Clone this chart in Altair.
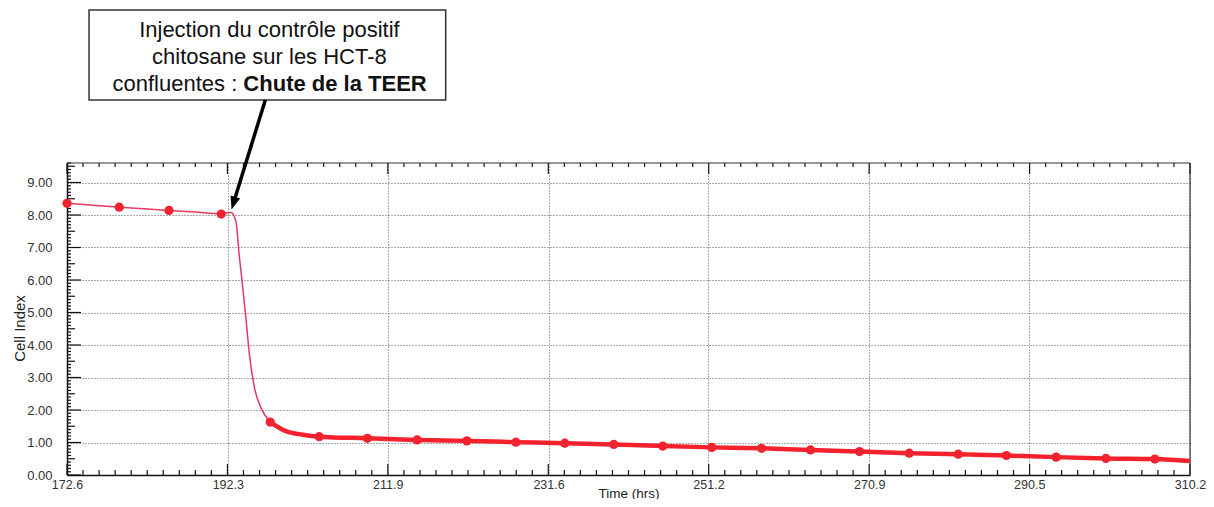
import altair as alt
import pandas as pd

# ---------------- data ----------------
# markers (hrs, Cell Index)
marker_time = [172.6, 179.0, 185.1, 191.5, 197.5, 203.5, 209.4, 215.5, 221.6, 227.6,
               233.6, 239.6, 245.6, 251.6, 257.7, 263.7, 269.7, 275.8, 281.8, 287.7,
               293.8, 299.9, 305.9]
marker_ci = [8.36, 8.24, 8.14, 8.03, 1.63, 1.18, 1.13, 1.08, 1.05, 1.01,
             0.98, 0.94, 0.89, 0.85, 0.82, 0.77, 0.72, 0.67, 0.64, 0.60,
             0.55, 0.51, 0.49]

# thin trace: before injection and the drop
thin_time = [172.6, 175.8, 179.0, 182.0, 185.1, 188.3, 191.5, 192.7, 193.3, 193.7,
             194.15, 194.56, 194.96, 195.58, 196.4, 197.5]
thin_ci = [8.36, 8.30, 8.24, 8.19, 8.14, 8.09, 8.04, 8.08, 7.80, 6.77,
           5.74, 4.72, 3.69, 2.67, 2.05, 1.63]

# thick trace: after the drop
thick_time = [197.5, 199.5, 201.5, 203.5, 209.4, 215.5, 221.6, 227.6, 233.6, 239.6,
              245.6, 251.6, 257.7, 263.7, 269.7, 275.8, 281.8, 287.7, 293.8, 299.9,
              305.9, 310.2]
thick_ci = [1.63, 1.34, 1.24, 1.18, 1.13, 1.08, 1.05, 1.01, 0.98, 0.94,
            0.89, 0.85, 0.82, 0.77, 0.72, 0.67, 0.64, 0.60, 0.55, 0.51,
            0.49, 0.43]

x_tick_labels = [172.6, 192.3, 211.9, 231.6, 251.2, 270.9, 290.5, 310.2]
y_tick_labels = [0, 1, 2, 3, 4, 5, 6, 7, 8, 9]

note_lines = ["Injection du contrôle positif", "chitosane sur les HCT-8"]
note_last_regular = "confluentes :"
note_last_bold = "Chute de la TEER"

# annotation placement (data units)
note_box = {"t": 175.3, "t2": 219.0, "v": 11.54, "v2": 14.31}
note_center_t = 197.4
note_line_v = [13.69, 12.86, 12.04]
note_split_t = [193.46, 194.21]
arrow_from = (196.9, 11.54)
arrow_shaft_end = (193.0, 8.37)
arrow_tip = (192.76, 8.17)

# ---------------- layout ----------------
W, H = 1123, 312
X_DOMAIN = [172.6, 310.2]
Y_DOMAIN = [0, 9.6]
FONT = "Liberation Sans"

n_minor_x = 70
x_step = (X_DOMAIN[1] - X_DOMAIN[0]) / n_minor_x
x_all = [round(X_DOMAIN[0] + i * x_step, 4) for i in range(n_minor_x + 1)]
x_major = [v for i, v in enumerate(x_all) if i % 10 == 0]
x_minor = [v for i, v in enumerate(x_all) if i % 10 != 0]
y_minor = [round(i * 0.1, 2) for i in range(97) if i % 5 != 0]
y_half = [round(i * 0.5, 2) for i in range(20) if i % 2 == 1]
y_major = [float(v) for v in y_tick_labels]

xs = alt.Scale(domain=X_DOMAIN, nice=False, zero=False)
ys = alt.Scale(domain=Y_DOMAIN, nice=False, zero=False)

grid_style = dict(grid=True, gridDash=[1, 2], gridColor="#555", gridWidth=1)
TICK = "#111"

# main axes (labels, grid, left/bottom frame) -- identical on every layer so they merge cleanly
x_main = alt.Axis(values=x_tick_labels, format=".1f", labelOverlap=False, labelFlush=False,
                  ticks=False, domain=True, domainColor="#111", domainWidth=1.5,
                  labelPadding=3, labelFont=FONT, labelFontSize=12.5, labelColor="#333",
                  title="Time (hrs)", titleFont=FONT, titleFontSize=13.5,
                  titleFontWeight="normal", titleColor="#222", titleY=22,
                  titleBaseline="alphabetic", **grid_style)
y_main = alt.Axis(values=y_tick_labels, format=".2f", labelOverlap=False,
                  ticks=False, domain=True, domainColor="#111", domainWidth=1.5,
                  labelPadding=15, labelFont=FONT, labelFontSize=13, labelColor="#333",
                  title="Cell Index", titleFont=FONT, titleFontSize=15,
                  titleFontWeight="normal", titleColor="#222", titleX=-48, titleY=165,
                  titleAngle=-90, titleAlign="center", titleBaseline="middle",
                  **grid_style)


def X(field="t:Q"):
    return alt.X(field, scale=xs, axis=x_main, title="Time (hrs)")


def Y(field="v:Q"):
    return alt.Y(field, scale=ys, axis=y_main, title="Cell Index")


markers = pd.DataFrame({"t": marker_time, "v": marker_ci})
thin = pd.DataFrame({"t": thin_time, "v": thin_ci})
thick = pd.DataFrame({"t": thick_time, "v": thick_ci})

thin_line = alt.Chart(thin).mark_line(color="#e23a62", strokeWidth=1.5, interpolate="monotone").encode(
    x=X(), y=Y())
thick_line = alt.Chart(thick).mark_line(color="#f5222e", strokeWidth=4.5, interpolate="monotone").encode(
    x=X(), y=Y())
points = alt.Chart(markers).mark_circle(size=85, color="#f2222e", opacity=1).encode(x=X(), y=Y())


# inward ticks, drawn from the tick value lists through the scales
def xticks(values, y0, y1):
    return alt.Chart(pd.DataFrame({"t": values})).mark_rule(color=TICK, strokeWidth=1.2).encode(
        x=X(), y=alt.value(y0), y2=alt.value(y1))


def yticks(values, length):
    return alt.Chart(pd.DataFrame({"v": values})).mark_rule(color=TICK, strokeWidth=1.2).encode(
        y=Y(), x=alt.value(0), x2=alt.value(length))


tick_layers = [
    xticks(x_minor, H, H - 5), xticks(x_major, H, H - 11),
    xticks(x_minor, 0, 4), xticks(x_major, 0, 11),
    yticks(y_minor, 4), yticks(y_half, 8), yticks(y_major, 14),
]
frame_top = alt.Chart(pd.DataFrame({"t": X_DOMAIN})).mark_line(color="#333", strokeWidth=1.2).encode(
    x=X(), y=alt.value(0))
frame_right = alt.Chart(pd.DataFrame({"v": Y_DOMAIN})).mark_line(color="#333", strokeWidth=1.2).encode(
    y=Y(), x=alt.value(W))

# annotation
box = alt.Chart(pd.DataFrame([note_box])).mark_rect(fill="white", stroke="#333", strokeWidth=1.5).encode(
    x=X(), x2="t2:Q", y=Y(), y2="v2:Q")
txt_df = pd.DataFrame({"t": [note_center_t] * 2, "v": note_line_v[:2], "s": note_lines})
txt = alt.Chart(txt_df).mark_text(font=FONT, fontSize=22, color="#111", align="center",
                                  baseline="middle").encode(x=X(), y=Y(), text="s:N")
txt_reg = alt.Chart(pd.DataFrame({"t": [note_split_t[0]], "v": [note_line_v[2]],
                                  "s": [note_last_regular]})).mark_text(
    font=FONT, fontSize=22, color="#111", align="right", baseline="middle").encode(
    x=X(), y=Y(), text="s:N")
txt_bold = alt.Chart(pd.DataFrame({"t": [note_split_t[1]], "v": [note_line_v[2]],
                                   "s": [note_last_bold]})).mark_text(
    font=FONT, fontSize=22, fontWeight="bold", color="#111", align="left", baseline="middle").encode(
    x=X(), y=Y(), text="s:N")

shaft = alt.Chart(pd.DataFrame({"t": [arrow_from[0]], "v": [arrow_from[1]],
                                "t2": [arrow_shaft_end[0]], "v2": [arrow_shaft_end[1]]})).mark_rule(
    color="#000", strokeWidth=3.5).encode(x=X(), x2="t2:Q", y=Y(), y2="v2:Q")
head = alt.Chart(pd.DataFrame({"t": [arrow_tip[0]], "v": [arrow_tip[1]]})).mark_point(
    shape="M0,0 L-0.38,-1 L0.38,-1 Z", filled=True, color="#000", size=676, angle=17,
    opacity=1, strokeWidth=0).encode(x=X(), y=Y())

chart = alt.layer(
    thin_line, *tick_layers, frame_top, frame_right, thick_line, points,
    box, txt, txt_reg, txt_bold, shaft, head
).properties(
    width=W, height=H, autosize="none",
    padding={"left": 59, "top": 155, "right": 16, "bottom": 24},
    background="white",
).configure_view(stroke=None)

chart.save("out.html", embed_options={"renderer": "svg", "actions": False})
